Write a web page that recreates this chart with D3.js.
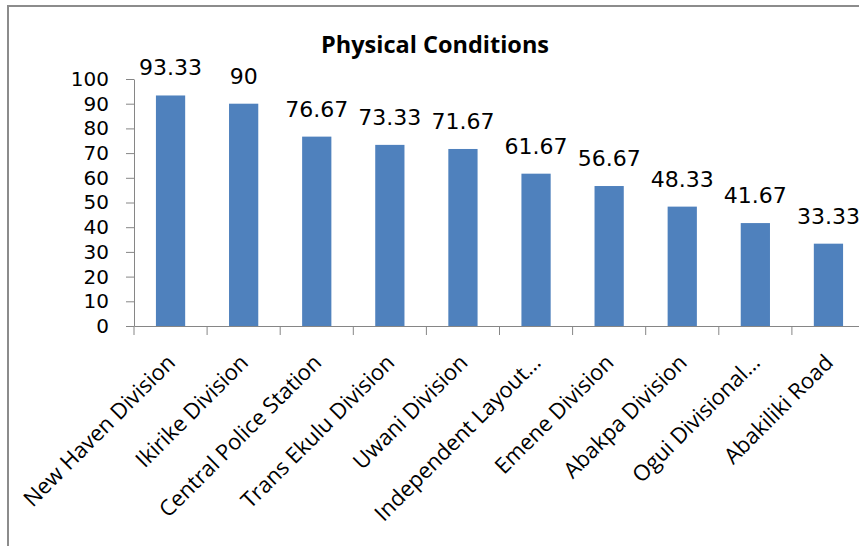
<!DOCTYPE html>
<html><head><meta charset="utf-8">
<script src="https://cdn.jsdelivr.net/npm/d3@7"></script>
<style>body{margin:0;background:#fff}svg{display:block}</style>
</head><body>
<svg id="c" width="859" height="546"></svg>
<script>
const categories = ["New Haven Division","Ikirike Division","Central Police Station","Trans Ekulu Division","Uwani Division","Independent Layout…","Emene Division","Abakpa Division","Ogui Divisional…","Abakiliki Road"];
const values = [93.33,90,76.67,73.33,71.67,61.67,56.67,48.33,41.67,33.33];
const yTicks = [0,10,20,30,40,50,60,70,80,90,100];
const title = "Physical Conditions";

const svg = d3.select("#c");
const font = "'Open Sans', sans-serif";
const numFont = "'DejaVu Sans', sans-serif";
// frame
svg.append("path").attr("d","M8,560 L8,6 L870,6").attr("fill","none").attr("stroke","#8c8c8c").attr("stroke-width",2);

const x = d3.scaleBand().domain(categories).range([134,865]).paddingInner(0.6).paddingOuter(0.3);
const y = d3.scaleLinear().domain([0,100]).range([326,79]);

svg.append("text").attr("x",435).attr("y",53).attr("text-anchor","middle")
  .style("font-family",font).style("font-weight","bold").style("font-size","23.5px").text(title);

const ya = svg.append("g").attr("transform","translate(134,0)")
  .call(d3.axisLeft(y).tickValues(yTicks).tickSize(8).tickPadding(17).tickSizeOuter(0));
ya.select(".domain").attr("stroke","#868686");
ya.selectAll(".tick line").attr("stroke","#868686");
ya.selectAll("text").style("font-family",numFont).style("font-size","20px").attr("fill","#000");

const xb = d3.scaleBand().domain(categories).range([134,865]);
const xa = svg.append("g").attr("transform","translate(0,326)")
  .call(d3.axisBottom(xb).tickSize(0).tickSizeOuter(0).tickFormat(""));
xa.select(".domain").attr("stroke","#868686");
const bounds = d3.range(categories.length+1).map(i=>134+i*xb.step());
svg.append("g").selectAll("line").data(bounds).join("line")
  .attr("x1",d=>d).attr("x2",d=>d).attr("y1",326).attr("y2",335).attr("stroke","#868686");

svg.append("g").selectAll("text").data(categories).join("text")
  .attr("transform",d=>`translate(${xb(d)+xb.bandwidth()/2+6},${364}) rotate(-45)`)
  .attr("text-anchor","end")
  .style("font-family",font).style("font-size","22px").attr("fill","#000").text(d=>d);

svg.append("g").selectAll("rect").data(values).join("rect")
  .attr("x",(d,i)=>x(categories[i])).attr("width",x.bandwidth())
  .attr("y",d=>y(d)).attr("height",d=>y(0)-y(d)).attr("fill","#4F81BD");

svg.append("g").selectAll("text").data(values).join("text")
  .attr("x",(d,i)=>x(categories[i])+x.bandwidth()/2).attr("y",d=>y(d)-20)
  .attr("text-anchor","middle").style("font-family",numFont).style("font-size","22px").attr("fill","#000")
  .text(d=>d);
</script>
</body></html>
